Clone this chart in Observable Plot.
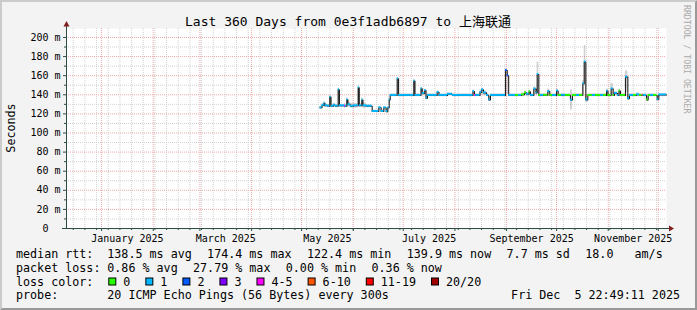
<!DOCTYPE html>
<html><head><meta charset="utf-8">
<script src="https://cdn.jsdelivr.net/npm/d3@7"></script>
<script src="https://cdn.jsdelivr.net/npm/@observablehq/plot@0.6"></script>
<style>body{margin:0;background:#f3f3f3} svg text{white-space:pre}</style>
</head><body><div id="chart"></div><script>
// ---- data ----
const rangeStart = "2024-12-10T22:49:11";
const rangeEnd = "2025-12-05T22:49:11";
const segStart = ["2025-05-12T01:00","2025-05-13T06:00","2025-05-14T11:00","2025-05-15T01:00","2025-05-16T20:00","2025-05-17T22:00","2025-05-18T16:00","2025-05-20T04:00","2025-05-21T08:00","2025-05-22T23:00","2025-05-23T17:00","2025-05-26T18:00","2025-05-27T08:00","2025-05-28T03:00","2025-05-28T20:00","2025-05-30T08:00","2025-06-01T04:00","2025-06-03T23:00","2025-06-04T15:00","2025-06-06T03:00","2025-06-06T20:00","2025-06-08T23:00","2025-06-12T09:00","2025-06-16T08:00","2025-06-17T18:00","2025-06-19T08:00","2025-06-20T18:00","2025-06-21T18:00","2025-06-22T14:00","2025-06-23T04:00","2025-06-27T09:00","2025-06-28T04:00","2025-07-07T08:00","2025-07-08T01:00","2025-07-11T16:00","2025-07-12T10:00","2025-07-13T21:00","2025-07-14T16:00","2025-07-15T13:00","2025-07-21T09:00","2025-07-22T11:00","2025-07-27T13:00","2025-07-30T13:00","2025-08-11T20:00","2025-08-12T18:00","2025-08-13T08:00","2025-08-16T01:00","2025-08-17T03:00","2025-08-18T04:00","2025-08-19T23:00","2025-08-21T08:00","2025-08-22T08:00","2025-08-31T08:00","2025-09-01T09:00","2025-09-02T06:00","2025-09-06T08:00","2025-09-08T04:00","2025-09-09T23:00","2025-09-11T18:00","2025-09-12T23:00","2025-09-14T11:00","2025-09-15T08:00","2025-09-17T08:00","2025-09-18T16:00","2025-09-19T09:00","2025-09-20T08:00","2025-09-21T08:00","2025-09-23T04:00","2025-09-25T18:00","2025-09-26T22:00","2025-09-28T13:00","2025-09-30T23:00","2025-10-01T23:00","2025-10-03T23:00","2025-10-06T08:00","2025-10-09T08:00","2025-10-10T13:00","2025-10-12T23:00","2025-10-14T18:00","2025-10-16T18:00","2025-10-17T14:00","2025-10-18T13:00","2025-10-19T18:00","2025-10-22T13:00","2025-10-24T08:00","2025-10-27T08:00","2025-10-29T04:00","2025-10-30T23:00","2025-10-31T20:00","2025-11-02T18:00","2025-11-03T23:00","2025-11-04T18:00","2025-11-06T13:00","2025-11-07T11:00","2025-11-08T08:00","2025-11-11T08:00","2025-11-12T18:00","2025-11-13T18:00","2025-11-16T04:00","2025-11-17T23:00","2025-11-19T18:00","2025-11-21T06:00","2025-11-21T23:00","2025-11-23T23:00","2025-11-24T23:00","2025-11-26T08:00","2025-11-28T04:00","2025-11-30T09:00","2025-12-01T08:00"];
const medianMs = [126.4,128.8,131,128.5,128,137.5,128,129,128,145.2,128.5,128,128,134.7,129.5,128,128.5,147.3,128.5,134.5,128.5,128,122.5,126.4,122.5,126.4,122.4,126.4,134.7,139.3,156.7,139.3,154.3,139.3,146.3,141.5,144.5,136.5,139.3,142.5,139.3,140.5,139.3,143.5,139.3,139.3,142.5,145.2,142,139.3,134.7,139.3,165.4,160,139.3,139.3,139.3,140,142,140.5,143,139.3,146,142,161.3,139.3,139.3,139.5,143.5,139.3,139.3,144,139.3,139.5,139.3,134.5,139.3,139.3,139.3,151.5,174.4,134.7,139.3,139.3,139.3,139.3,139.3,143.8,139.3,146.3,139.3,141.5,139.3,144,139.3,158.5,136,139.3,139.3,140,139.3,139.5,139.3,134.7,139.3,139.3,139.3,135,139.9];
const lossIdx = [1,1,1,1,1,1,1,1,1,1,1,4,1,1,1,1,1,1,1,1,1,1,1,1,1,1,1,1,1,1,1,1,1,1,1,1,1,1,1,1,1,1,1,1,4,1,1,1,1,1,1,1,2,2,1,0,1,0,0,1,0,1,1,1,1,0,1,0,1,0,1,1,0,1,0,1,0,1,0,1,1,1,0,1,0,1,0,1,0,1,0,1,1,0,0,1,1,1,0,1,0,5,1,0,0,1,0,1,1];
const smokeLo = [125,127,128,127,126.5,130,126.5,127,126.5,134,127,126,127,130,127,126,126,133,127,129,126,126.5,122,123,122,123,122,123,130,138,140,138,140,138,140,139,140,135,138,139,138,139,138,139,138,138,139,140,139,138,133,138,140,140,138,138,138,138,139,138,139,138,140,139,141,138,138,138,139,138,138,139,138,138,138,124,138,138,138,140,150,132,138,138,138,138,138,139,138,140,138,139,138,139,138,142,134,138,138,138,138,138,138,133,138,138,138,133,138];
const smokeHi = [128,131,133,130,130,139,130,131,130,147,130,131,130,137,132,131,131,149,131,137,131,129.5,124,127.5,124,127.5,124,127,137,141,158,141,156,141,148,143,146,139,141,144,141,142,141,145,141,141,145,147,144,141,138,141,167,165,141,141,141,142,144,142,145,141,148,145,174.2,141,141,141,146,141,141,146,141,141,141,145,141,141,141,155,191.6,140,141,141,141,141,141,146,141,152,141,143,141,146,141,165,139,141,141,142,141,141,141,138,141,141,141,138,141];
const lossColors = ["#26ff00","#00b8ff","#0059ff","#7e00ff","#ff00ff","#ff5500","#ff0000","#a10000"];
const lossLabels = ["0","1","2","3","4-5","6-10","11-19","20/20"];
const monthLabelKeys = ["2025-01","2025-03","2025-05","2025-07","2025-09","2025-11"];
const monthLabelText = ["January 2025","March 2025","May 2025","July 2025","September 2025","November 2025"];
const yMajor = [0,20,40,60,80,100,120,140,160,180,200];
const yMinor = [10,30,50,70,90,110,130,150,170,190];
const titleText = "Last 360 Days from 0e3f1adb6897 to 上海联通";
const rttLabel = "median rtt:";
const rttStats = ["138.5 ms avg","174.4 ms max","122.4 ms min","139.9 ms now","7.7 ms sd","18.0   am/s"];
const lossLabel = "packet loss:";
const lossStats = ["0.86 % avg","27.79 % max","0.00 % min","0.36 % now"];
const colorLabel = "loss color:";
const probeLabel = "probe:";
const probeText = "20 ICMP Echo Pings (56 Bytes) every 300s";
const stampText = "Fri Dec  5 22:49:11 2025";
const yLabel = "Seconds";
const watermark = "RRDTOOL / TOBI OETIKER";

// ---- build ----
const t0 = new Date(rangeStart + "Z"), t1 = new Date(rangeEnd + "Z");
const segs = segStart.map((s, i) => ({
  a: new Date(s + "Z"),
  b: i + 1 < segStart.length ? new Date(segStart[i + 1] + "Z") : t1,
  med: medianMs[i], loss: lossColors[lossIdx[i]], lo: smokeLo[i], hi: smokeHi[i]
}));
const linePts = segs.map(d => ({t: d.a, v: d.med})).concat([{t: t1, v: medianMs[medianMs.length - 1]}]);
const months = d3.utcMonth.range(t0, t1);
const weeks = d3.utcSunday.range(t0, t1);
const labelMap = new Map();
const labelMids = monthLabelKeys.map((k, i) => {
  const m0 = new Date(k + "-01T00:00:00Z"), m1 = d3.utcMonth.offset(m0, 1);
  const mid = new Date((+m0 + +m1) / 2);
  labelMap.set(+mid, monthLabelText[i]);
  return mid;
});
const F = "'DejaVu Sans Mono', 'Noto Sans CJK SC', monospace";
const AX = "#2c4d43";
const half = 1.0;

const plot = Plot.plot({
  width: 697, height: 310,
  marginLeft: 66, marginRight: 31, marginTop: 28, marginBottom: 82,
  style: {background: "#f3f3f3", fontFamily: F, fontSize: "10px", color: "#000", overflow: "visible"},
  x: {type: "utc", domain: [t0, t1], label: null},
  y: {domain: [0, 209.4], label: null},
  color: {type: "identity"},
  marks: [
    Plot.frame({fill: "white", stroke: "none"}),
    Plot.ruleX(weeks, {stroke: "#d2d2d2", strokeDasharray: "1,1"}),
    Plot.ruleY(yMinor, {stroke: "#d2d2d2", strokeDasharray: "1,1"}),
    Plot.ruleX(months, {stroke: "#f0a8a8", strokeDasharray: "1,1"}),
    Plot.ruleY(yMajor.filter(v => v > 0), {stroke: "#f0a8a8", strokeDasharray: "1,1"}),
    Plot.rect(segs, {x1: "a", x2: "b", y1: "lo", y2: "hi", fill: "#7a7a7a", fillOpacity: 0.35}),
    Plot.line(linePts, {x: "t", y: "v", curve: "step-after", stroke: "#202020", strokeWidth: 1.1}),
    Plot.rect(segs, {x1: "a", x2: "b", y1: d => d.med - half, y2: d => d.med + half, fill: "loss"}),
    Plot.axisY(yMajor, {tickSize: 3, tickPadding: 3, stroke: AX, fill: "#000",
      tickFormat: d => d === 0 ? "0\u00a0\u00a0" : d + " m", label: null}),
    Plot.axisY(yMinor, {tickSize: 2, tickPadding: 3, stroke: AX, tickFormat: () => "", label: null}),
    Plot.axisX(months, {tickSize: 3, stroke: AX, tickFormat: () => "", label: null}),
    Plot.axisX(weeks, {tickSize: 2, stroke: AX, tickFormat: () => "", label: null}),
    Plot.axisX(labelMids, {tickSize: 0, tickPadding: 6, fill: "#000", tickFormat: d => labelMap.get(+d), label: null})
  ]
});
document.getElementById("chart").appendChild(plot);

// ---- decorations ----
const svg = d3.select(plot);
const xs = plot.scale("x"), ys = plot.scale("y");
const X0 = xs.range[0], X1 = xs.range[1], Y0 = ys.range[0];
svg.append("polygon").attr("points", "0,0 697,0 695,2 2,2 2,308 0,310").attr("fill", "#cbcbcb");
svg.append("polygon").attr("points", "697,0 697,310 0,310 2,308 695,308 695,2").attr("fill", "#999999");
svg.append("line").attr("x1", X0 + 0.5).attr("x2", X0 + 0.5).attr("y1", Y0 + 0.5).attr("y2", 24).attr("stroke", AX);
svg.append("line").attr("x1", X0 - 4).attr("x2", X1 + 4).attr("y1", Y0 + 0.5).attr("y2", Y0 + 0.5).attr("stroke", AX);
svg.append("polygon").attr("points", `${X0 - 2.5},26.5 ${X0 + 3.5},26.5 ${X0 + 0.5},21`).attr("fill", "#7f1f1f");
svg.append("polygon").attr("points", `${X1 + 3},${Y0 - 2.5} ${X1 + 3},${Y0 + 3.5} ${X1 + 8},${Y0 + 0.5}`).attr("fill", "#7f1f1f");

function txt(x, y, s, size, anchor, fill, transform) {
  const t = svg.append("text").attr("x", x).attr("y", y).attr("font-family", F)
    .attr("font-size", size).attr("fill", fill || "#000").attr("text-anchor", anchor || "start")
    .attr("xml:space", "preserve").style("white-space", "pre").text(s);
  if (transform) t.attr("transform", transform);
  return t;
}
txt(348, 26, titleText, 13, "middle");
txt(0, 0, yLabel, 11.7, "middle", "#000", `translate(15,${(Y0 + ys.range[1]) / 2}) rotate(-90)`);
txt(0, 0, watermark, 8.2, "start", "#aaaaaa", "translate(684,5) rotate(90)");

const CW = 11.7 * 0.602, GAP = 15.3, LX = 16, VX = 107.3;
const rows = [258, 271.8, 285.6, 299.4];
txt(LX, rows[0], rttLabel, 11.7);
let x = VX;
rttStats.forEach(s => { txt(x, rows[0], s, 11.7); x += s.length * CW + GAP; });
txt(LX, rows[1], lossLabel, 11.7);
x = VX;
lossStats.forEach(s => { txt(x, rows[1], s, 11.7); x += s.length * CW + GAP; });
txt(LX, rows[2], colorLabel, 11.7);
x = 108.3;
lossLabels.forEach((s, i) => {
  svg.append("rect").attr("x", x + 0.5).attr("y", rows[2] - 7.6).attr("width", 7).attr("height", 7)
    .attr("fill", lossColors[i]).attr("stroke", "#000").attr("stroke-width", 1);
  txt(x + 15, rows[2], s, 11.7);
  x += 15 + s.length * CW + 15;
});
txt(LX, rows[3], probeLabel, 11.7);
txt(VX, rows[3], probeText, 11.7);
txt(680, rows[3], stampText, 11.7, "end");
</script></body></html>
